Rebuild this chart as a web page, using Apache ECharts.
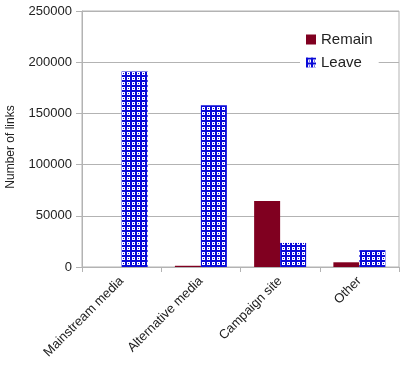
<!DOCTYPE html>
<html>
<head>
<meta charset="utf-8">
<script src="https://cdn.jsdelivr.net/npm/echarts@6/dist/echarts.min.js"></script>
<style>html,body{margin:0;padding:0;background:#fff}#c{width:410px;height:385px}</style>
</head>
<body>
<div id="c"></div>
<script>
var categories = ['Mainstream media', 'Alternative media', 'Campaign site', 'Other'];
var remainValues = [0, 1200, 64500, 4600];
var leaveValues = [191000, 158000, 23500, 16500];
var yTicks = { min: 0, max: 250000, interval: 50000 };

function makePattern() {
  var c = document.createElement('canvas');
  c.width = 5; c.height = 5;
  var ctx = c.getContext('2d');
  ctx.fillStyle = '#ffffff';
  ctx.fillRect(0, 0, 5, 5);
  ctx.fillStyle = '#0a0ad8';
  ctx.fillRect(0, 0, 5, 2);
  ctx.fillRect(0, 0, 2, 5);
  ctx.fillRect(3, 3, 1, 1);
  return c;
}
var pattern = { image: makePattern(), repeat: 'repeat' };

var chart = echarts.init(document.getElementById('c'));
var font = 'Liberation Sans';
chart.setOption({
  animation: false,
  textStyle: { fontFamily: font },
  grid: { left: 82, right: 11, top: 11, bottom: 118, containLabel: false, outerBoundsMode: 'none', show: true, borderColor: '#b3b3b3', borderWidth: 1 },
  legend: {
    orient: 'vertical', left: 300, top: 28,
    itemWidth: 10, itemHeight: 10, itemGap: 8, icon: 'rect',
    backgroundColor: '#ffffff', padding: [4, 6, 4, 6],
    textStyle: { fontSize: 15, color: '#222', fontFamily: font },
    data: ['Remain', 'Leave']
  },
  xAxis: {
    type: 'category', data: categories,
    axisLine: { lineStyle: { color: '#b3b3b3' } },
    axisTick: { show: true, length: 5, alignWithLabel: false, lineStyle: { color: '#b3b3b3' } },
    axisLabel: { rotate: 45, fontSize: 13, color: '#222', margin: 12, interval: 0, fontFamily: font }
  },
  yAxis: {
    type: 'value', min: yTicks.min, max: yTicks.max, interval: yTicks.interval,
    name: 'Number of links', nameLocation: 'middle', nameGap: 65,
    nameTextStyle: { fontSize: 12, color: '#222', fontFamily: font, padding: [0, 16, 0, 0] },
    axisLine: { show: true, lineStyle: { color: '#b3b3b3' } },
    axisTick: { show: true, length: 6, lineStyle: { color: '#b3b3b3' } },
    axisLabel: { fontSize: 13, color: '#222', margin: 10, fontFamily: font, formatter: function (v) { return String(v); } },
    splitLine: { lineStyle: { color: '#b3b3b3' } }
  },
  series: [
    { name: 'Remain', type: 'bar', data: remainValues, barWidth: 26, barGap: '0%', itemStyle: { color: '#800020' } },
    { name: 'Leave', type: 'bar', data: leaveValues, barWidth: 26, barGap: '0%', itemStyle: { color: pattern } }
  ]
});
</script>
</body>
</html>
